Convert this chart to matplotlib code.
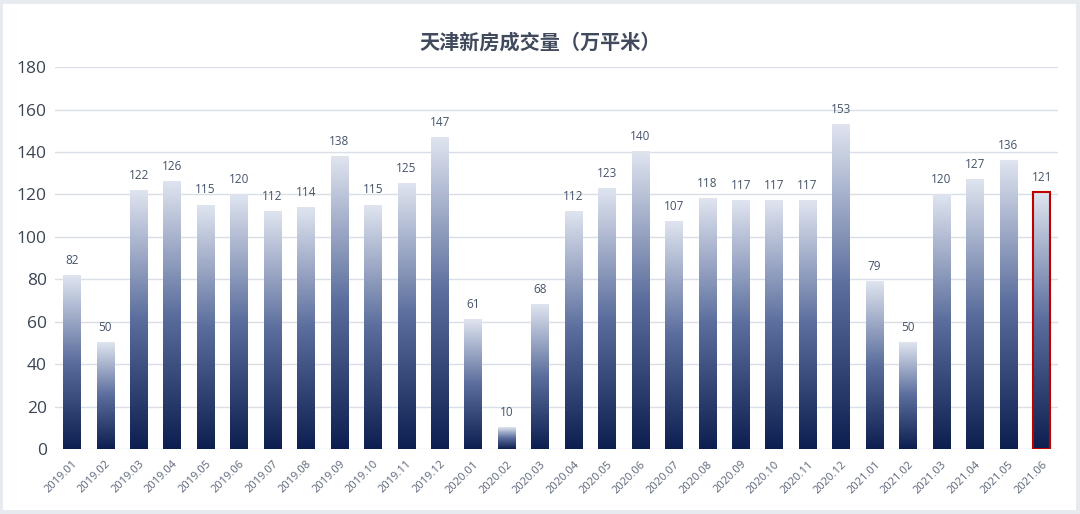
import matplotlib
matplotlib.use("Agg")
import matplotlib.pyplot as plt
import numpy as np
from matplotlib.colors import LinearSegmentedColormap
from matplotlib.patches import Rectangle

months = ["2019.01","2019.02","2019.03","2019.04","2019.05","2019.06","2019.07","2019.08","2019.09","2019.10","2019.11","2019.12",
          "2020.01","2020.02","2020.03","2020.04","2020.05","2020.06","2020.07","2020.08","2020.09","2020.10","2020.11","2020.12",
          "2021.01","2021.02","2021.03","2021.04","2021.05","2021.06"]
values = [82,50,122,126,115,120,112,114,138,115,125,147,
          61,10,68,112,123,140,107,118,117,117,117,153,
          79,50,120,127,136,121]
title = "天津新房成交量（万平米）"
yticks = [0,20,40,60,80,100,120,140,160,180]

plt.rcParams['font.family'] = ['Open Sans', 'Noto Sans CJK SC', 'DejaVu Sans']

fig = plt.figure(figsize=(10.8, 5.14), dpi=100)
fig.patch.set_facecolor('#e7eaef')
# white inner panel
fig.add_artist(Rectangle((3/1080, 4/514), 1 - 7/1080, 1 - 8/514, transform=fig.transFigure,
                         facecolor='white', edgecolor='none', zorder=-10))

ax = fig.add_axes([0.051, 0.1265, 0.929, 0.743])
ax.set_facecolor('none')
cmap = LinearSegmentedColormap.from_list('g', ['#0d1f50', '#5a6d9c', '#dfe4ef'])
grad = np.linspace(0, 1, 256).reshape(-1, 1)
x = np.arange(len(values))
w = 0.52
bars = ax.bar(x, values, width=w, color='none', edgecolor='none', zorder=3)
for i, b in enumerate(bars):
    h = b.get_height()
    ax.imshow(grad, cmap=cmap, aspect='auto', origin='lower',
              extent=(b.get_x(), b.get_x() + b.get_width(), 0, h), zorder=2)
    ax.text(b.get_x() + b.get_width() / 2, h + 4, str(values[i]), ha='center', va='bottom',
            fontsize=8.5, color='#44546a')
bars[-1].set_edgecolor('#c00000')
bars[-1].set_linewidth(1.5)

ax.set_xlim(-0.5, len(values) - 0.5)
ax.set_ylim(0, 180)
ax.set_yticks(yticks)
ax.set_yticklabels([str(v) for v in yticks], fontsize=12.5, color='#3b4554')
ax.set_xticks(x)
ax.set_xticklabels(months, rotation=45, ha='right', rotation_mode='anchor', fontsize=8, color='#5a6478')
ax.tick_params(length=0, pad=6)
ax.tick_params(axis='x', pad=7)
ax.yaxis.grid(True, color='#d9dee7', linewidth=1)
ax.set_axisbelow(True)
for s in ax.spines.values():
    s.set_visible(False)

fig.text(0.5, 0.918, title, ha='center', va='center', fontsize=14.5, fontweight='bold',
         color='#404a5c', family=['Noto Sans CJK SC', 'DejaVu Sans'])

fig.savefig('out.png', dpi=100)
